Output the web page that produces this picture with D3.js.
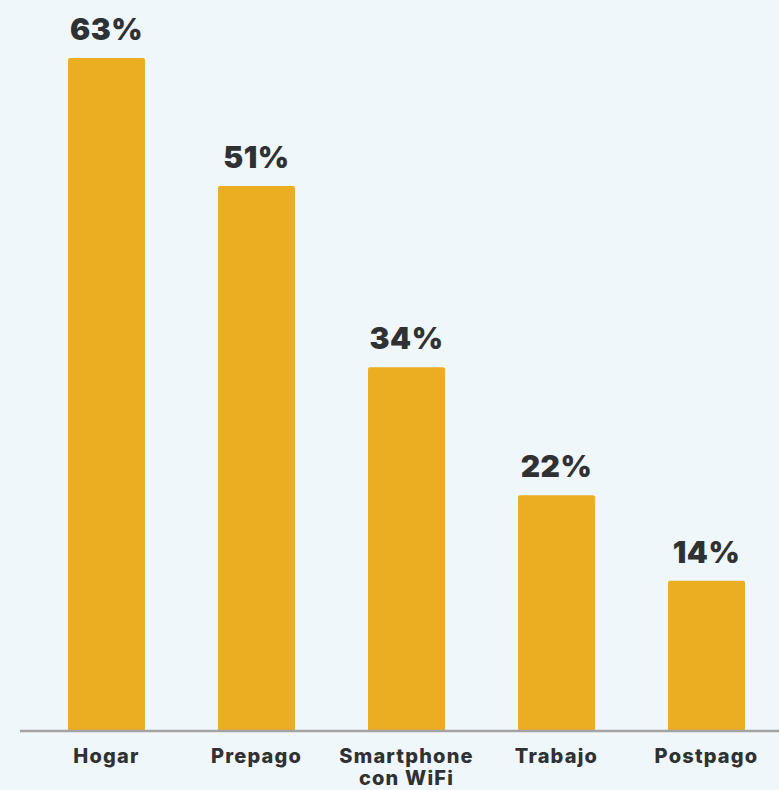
<!DOCTYPE html>
<html>
<head>
<meta charset="utf-8">
<script src="https://cdn.jsdelivr.net/npm/d3@7"></script>
<style>
  html, body { margin: 0; padding: 0; background: #f0f7fb; }
  svg { display: block; font-family: Inter, "Open Sans", sans-serif; }
</style>
</head>
<body>
<div id="chart"></div>
<script>
var categories = ["Hogar", "Prepago", "Smartphone\ncon WiFi", "Trabajo", "Postpago"];
var values = [63, 51, 34, 22, 14];

var width = 779, height = 790;
var baseY = 730;

var svg = d3.select("#chart").append("svg")
    .attr("width", width)
    .attr("height", height);

svg.append("rect")
    .attr("width", width).attr("height", height)
    .attr("fill", "#f0f7fb");

var x = d3.scaleBand()
    .domain(categories)
    .range([31.5, 781.5])
    .paddingInner(0.487)
    .paddingOuter(0.2435);

var y = d3.scaleLinear()
    .domain([0, 63])
    .range([baseY, 58]);

var data = categories.map(function(c, i) { return {name: c, value: values[i]}; });

svg.selectAll(".bar")
    .data(data)
    .enter().append("rect")
    .attr("class", "bar")
    .attr("x", function(d) { return x(d.name); })
    .attr("y", function(d) { return y(d.value); })
    .attr("width", x.bandwidth())
    .attr("height", function(d) { return baseY - y(d.value) + 2; })
    .attr("rx", 2)
    .attr("fill", "#ebae22");

// baseline
svg.append("line")
    .attr("x1", 20).attr("x2", width)
    .attr("y1", baseY + 1).attr("y2", baseY + 1)
    .attr("stroke", "#a3a3a3")
    .attr("stroke-width", 2.5);

// value labels
svg.selectAll(".val")
    .data(data)
    .enter().append("text")
    .attr("class", "val")
    .attr("x", function(d) { return x(d.name) + x.bandwidth() / 2; })
    .attr("y", function(d) { return y(d.value) - 18; })
    .attr("text-anchor", "middle")
    .attr("font-size", 30)
    .attr("font-weight", 900)
    .attr("letter-spacing", 0.5)
    .attr("fill", "#2f3133")
    .text(function(d) { return d.value + "%"; });

// category labels
var lab = svg.selectAll(".cat")
    .data(data)
    .enter().append("text")
    .attr("class", "cat")
    .attr("x", function(d) { return x(d.name) + x.bandwidth() / 2; })
    .attr("y", 763)
    .attr("text-anchor", "middle")
    .attr("font-size", 20)
    .attr("font-weight", 800)
    .attr("letter-spacing", 1.2)
    .attr("fill", "#2f3133");

lab.selectAll("tspan")
    .data(function(d) { return d.name.split("\n"); })
    .enter().append("tspan")
    .attr("x", function() { var p = d3.select(this.parentNode).datum(); return x(p.name) + x.bandwidth() / 2; })
    .attr("dy", function(d, i) { return i ? 22 : 0; })
    .text(function(d) { return d; });
</script>
</body>
</html>
